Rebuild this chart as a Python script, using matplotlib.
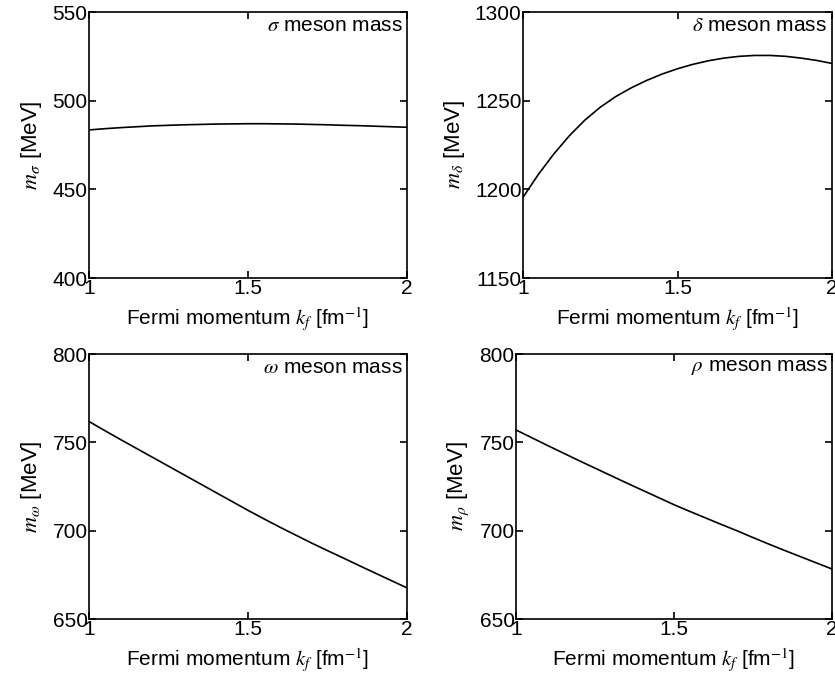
import matplotlib
matplotlib.use("Agg")
import matplotlib.pyplot as plt

plt.rcParams['font.family'] = ['Liberation Sans', 'DejaVu Sans']
plt.rcParams['mathtext.fontset'] = 'stix'

kf = [1.0, 1.05, 1.1, 1.15, 1.2, 1.25, 1.3, 1.35, 1.4, 1.45, 1.5,
      1.55, 1.6, 1.65, 1.7, 1.75, 1.8, 1.85, 1.9, 1.95, 2.0]
m_sigma = [483.5, 484.2, 484.8, 485.3, 485.8, 486.1, 486.4, 486.6, 486.8, 486.9, 487.0,
           487.0, 486.9, 486.8, 486.6, 486.4, 486.1, 485.9, 485.6, 485.3, 485.0]
m_delta = [1195.5, 1208.5, 1220, 1230.2, 1239, 1246.3, 1252.3, 1257.2, 1261.4, 1265, 1268,
           1270.5, 1272.5, 1274, 1275, 1275.5, 1275.5, 1275, 1274, 1272.7, 1271]
m_omega = [761.8, 756.6, 751.5, 746.5, 741.5, 736.5, 731.5, 726.5, 721.5, 716.5, 711.5,
           706.7, 702.0, 697.5, 693.0, 688.7, 684.5, 680.2, 676.0, 671.8, 667.6]
m_rho = [757.0, 752.6, 748.2, 743.9, 739.6, 735.4, 731.2, 727.0, 722.9, 718.8, 714.7,
         710.9, 707.2, 703.5, 699.9, 696.1, 692.4, 688.8, 685.3, 681.8, 678.3]

panels = [
    (m_sigma, (400, 550), [400, 450, 500, 550], r'\sigma'),
    (m_delta, (1150, 1300), [1150, 1200, 1250, 1300], r'\delta'),
    (m_omega, (650, 800), [650, 700, 750, 800], r'\omega'),
    (m_rho, (650, 800), [650, 700, 750, 800], r'\rho'),
]

# axes rectangles in pixels: left, top, right, bottom
boxes = [(89, 12, 407, 278), (523, 12, 832, 278),
         (89, 354, 407, 619), (516, 354, 832, 619)]

W, H = 835, 678
fig = plt.figure(figsize=(W / 100, H / 100), dpi=100)

for (vals, ylim, yt, sym), (l, t, r, b) in zip(panels, boxes):
    ax = fig.add_axes([l / W, 1 - b / H, (r - l) / W, (b - t) / H])
    ax.plot(kf, vals, color='black', lw=1.2)
    ax.set_xlim(1, 2)
    ax.set_ylim(*ylim)
    ax.set_xticks([1, 1.5, 2])
    ax.set_xticklabels(['1', '1.5', '2'])
    ax.set_yticks(yt)
    ax.tick_params(direction='in', length=5, width=1.2, labelsize=15,
                   right=True, top=True, pad=1)
    for s in ax.spines.values():
        s.set_linewidth(1.2)
    ax.set_xlabel(r'Fermi momentum $k_f$ [fm$^{-1}$]', fontsize=15, labelpad=5)
    ax.set_ylabel(r'$m_{' + sym + r'}$ [MeV]', fontsize=16, labelpad=6)
    ax.text(0.985, 0.985, r'$' + sym + r'$ meson mass', transform=ax.transAxes,
            ha='right', va='top', fontsize=15)

fig.savefig('out.png', dpi=100)
